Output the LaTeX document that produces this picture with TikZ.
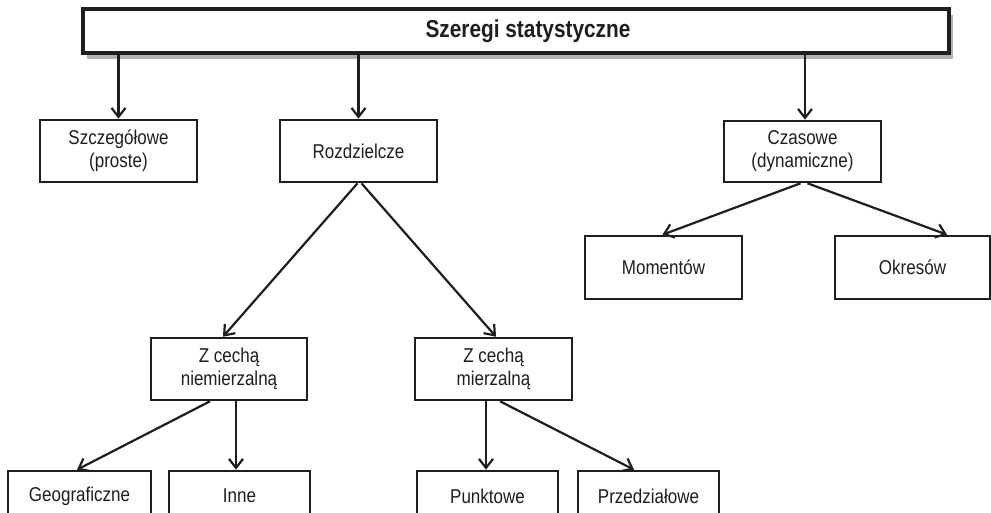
\documentclass[tikz,border=0pt]{standalone}
\usepackage{fontspec}
\setmainfont{Liberation Sans}[FakeStretch=0.85]
\usetikzlibrary{arrows.meta,shadows}
\definecolor{ink}{HTML}{1E1E1E}
\begin{document}
\begin{tikzpicture}[x=1pt,y=-1pt,
  box/.style={draw=ink,line width=2.6pt,fill=white,text=ink,rectangle,inner sep=0pt,
    align=center,font=\fontsize{20}{23}\selectfont,minimum width=157pt,minimum height=62pt},
  arr/.style={draw=ink,line width=2.2pt,-{Straight Barb[length=9pt,width=14pt,line width=2.2pt]}},
]
\clip (0,0) rectangle (991,513);
\fill[white] (0,0) rectangle (991,513);
\node[box,line width=3.6pt,minimum width=866pt,minimum height=44pt,
  font=\fontsize{24.5}{28}\selectfont\bfseries,
  drop shadow={shadow xshift=4pt,shadow yshift=-6pt,fill=gray!60,opacity=1}] (title) at (516,31) {\hspace*{24pt}Szeregi statystyczne};
\node[box] (szcz) at (118.5,151) {Szczegółowe\\(proste)};
\node[box] (rozd) at (358.5,151) {Rozdzielcze};
\node[box,minimum height=61pt] (czas) at (802.5,151.5) {Czasowe\\(dynamiczne)};
\node[box,minimum height=63pt] (mom) at (663.5,267.5) {Momentów};
\node[box,minimum width=155pt,minimum height=63pt] (okr) at (912.5,267.5) {Okresów};
\node[box,minimum width=156pt] (niem) at (229,369) {Z cechą\\niemierzalną};
\node[box] (mier) at (493.5,369) {Z cechą\\mierzalną};
\node[box,minimum width=143pt,minimum height=50pt] (geo) at (79.5,496) {Geograficzne};
\node[box,minimum width=141pt,minimum height=50pt] (inne) at (239.5,496) {Inne};
\node[box,minimum width=141pt,minimum height=50pt] (punkt) at (487.5,496) {Punktowe};
\node[box,minimum width=141pt,minimum height=50pt] (przedz) at (648.5,496) {Przedziałowe};

\draw[arr] (title.south -| szcz.north) -- (szcz.north);
\draw[arr] (title.south -| rozd.north) -- (rozd.north);
\draw[arr] ([xshift=2.5pt]title.south -| czas.north) -- ([xshift=2.5pt]czas.north);
\draw[arr] ([xshift=-1pt]rozd.south) -- ([xshift=-6pt]niem.north);
\draw[arr] ([xshift=3pt]rozd.south) -- ([xshift=2.5pt]mier.north);
\draw[arr] ([xshift=-2pt]czas.south) -- ([xshift=-1pt]mom.north);
\draw[arr] ([xshift=5pt]czas.south) -- ([xshift=34.5pt]okr.north);
\draw[arr] ([xshift=-19pt]niem.south) -- ([xshift=-2.5pt]geo.north);
\draw[arr] ([xshift=7pt]niem.south) -- ([xshift=7pt]niem.south |- inne.north);
\draw[arr] ([xshift=-7.5pt]mier.south) -- ([xshift=-7.5pt]mier.south |- punkt.north);
\draw[arr] ([xshift=6.5pt]mier.south) -- ([xshift=-14.5pt]przedz.north);
\end{tikzpicture}
\end{document}
